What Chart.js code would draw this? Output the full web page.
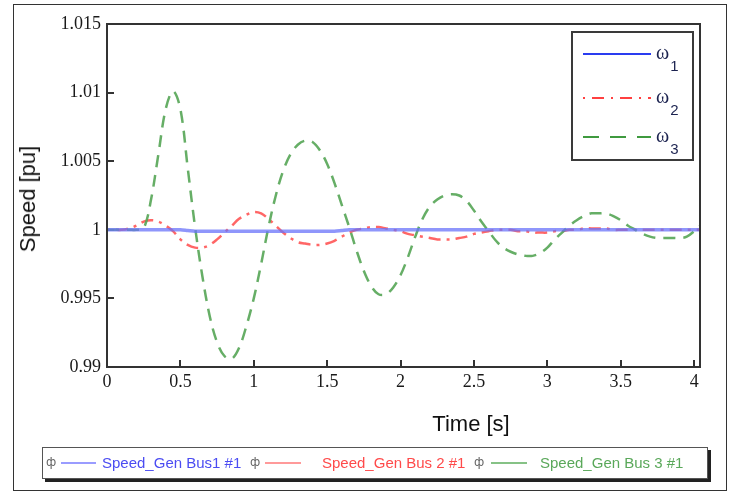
<!DOCTYPE html>
<html><head><meta charset="utf-8">
<script src="https://cdn.jsdelivr.net/npm/chart.js@4.4.1/dist/chart.umd.min.js"></script>
<style>
html,body{margin:0;padding:0;background:#fff;}
#wrap{position:relative;width:731px;height:495px;overflow:hidden;background:#fff;}
#frame{position:absolute;left:13px;top:4px;width:712px;height:485px;border:1.5px solid #333;}
#c{position:absolute;left:0;top:0;}
.title{position:absolute;font-family:"Liberation Sans",Arial,sans-serif;font-size:22px;color:#111;white-space:nowrap;line-height:1;}
#xt{left:471px;top:424px;transform:translate(-50%,-50%);}
#yt{left:28px;top:199px;transform:translate(-50%,-50%) rotate(-90deg);}
#leg2{position:absolute;left:42px;top:447px;width:664px;height:30px;border:1.5px solid #555;box-shadow:3px 3px 0 #222;background:#fff;}
.ic{position:absolute;top:7px;font-family:"DejaVu Sans",sans-serif;font-size:12px;color:#666;}
.ln{position:absolute;top:14px;height:2px;}
.tx{position:absolute;top:6px;font-family:"Liberation Sans",Arial,sans-serif;font-size:15px;white-space:nowrap;}
</style></head>
<body>
<div id="wrap">
<div id="frame"></div>
<canvas id="c" width="731" height="495"></canvas>
<div class="title" id="xt">Time [s]</div>
<div class="title" id="yt">Speed [pu]</div>
<div id="leg2"></div>
</div>
<script>
// ---- data ----
const timeS = [0,0.05,0.1,0.15,0.2,0.25,0.3,0.35,0.4,0.45,0.5,0.55,0.6,0.65,0.7,0.75,0.8,0.85,0.9,0.95,
1,1.05,1.1,1.15,1.2,1.25,1.3,1.35,1.4,1.45,1.5,1.55,1.6,1.65,1.7,1.75,1.8,1.85,1.9,1.95,
2,2.05,2.1,2.15,2.2,2.25,2.3,2.35,2.4,2.45,2.5,2.55,2.6,2.65,2.7,2.75,2.8,2.85,2.9,2.95,
3,3.05,3.1,3.15,3.2,3.25,3.3,3.35,3.4,3.45,3.5,3.55,3.6,3.65,3.7,3.75,3.8,3.85,3.9,3.95,4,4.05];

const omega1 = [1.0000,1.0000,1.0000,1.0000,1.0000,1.0000,1.0000,1.0000,1.0000,1.0000,1.0000,0.99995,0.9999,0.9999,0.9999,0.9999,0.9999,0.9999,0.9999,0.9999,
0.9999,0.9999,0.9999,0.9999,0.9999,0.9999,0.9999,0.9999,0.9999,0.9999,0.9999,0.9999,0.99995,1.0000,1.0000,1.0000,1.0000,1.0000,1.0000,1.0000,
1.0000,1.0000,1.0000,1.0000,1.0000,1.0000,1.0000,1.0000,1.0000,1.0000,1.0000,1.0000,1.0000,1.0000,1.0000,1.0000,1.0000,1.0000,1.0000,1.0000,
1.0000,1.0000,1.0000,1.0000,1.0000,1.0000,1.0000,1.0000,1.0000,1.0000,1.0000,1.0000,1.0000,1.0000,1.0000,1.0000,1.0000,1.0000,1.0000,1.0000,1.0000,1.0000];

const omega2 = [1.0000,1.0000,1.0000,1.0001,1.0003,1.0006,1.0007,1.0006,1.0003,0.9999,0.9993,0.9989,0.9987,0.9987,0.9989,0.9993,0.9998,1.0003,1.0008,1.0011,
1.0013,1.0012,1.0008,1.0003,0.9998,0.9994,0.9991,0.9990,0.9989,0.9989,0.9990,0.9992,0.9995,0.9998,1.0000,1.0001,1.0002,1.0002,1.0001,1.0000,
0.9999,0.9997,0.9996,0.9995,0.9994,0.9993,0.9993,0.9993,0.9994,0.9995,0.9997,0.9998,0.9999,1.0000,1.0000,1.0000,0.9999,0.9999,0.9998,0.9998,
0.9998,0.9999,0.9999,1.0000,1.0000,1.0001,1.0001,1.0001,1.0001,1.0000,1.0000,1.0000,1.0000,1.0000,1.0000,1.0000,1.0000,1.0000,1.0000,1.0000,1.0000,1.0000];

const omega3 = [1.0000,1.0000,1.0000,1.0000,1.0000,1.0001,1.0022,1.0055,1.0088,1.0101,1.0088,1.0045,1.0002,0.9966,0.9937,0.9918,0.9908,0.9906,0.9914,0.9930,
0.9950,0.9975,1.0002,1.0025,1.0043,1.0055,1.0062,1.0065,1.0064,1.0058,1.0048,1.0034,1.0018,1.0002,0.9985,0.9970,0.9959,0.9953,0.9953,0.9958,
0.9967,0.9980,0.9995,1.0008,1.0017,1.0022,1.0025,1.0026,1.0025,1.0021,1.0014,1.0006,0.9999,0.9992,0.9987,0.9984,0.9982,0.9981,0.9981,0.9983,
0.9987,0.9993,0.9998,1.0003,1.0007,1.0010,1.0012,1.0012,1.0012,1.0010,1.0007,1.0003,1.0000,0.9997,0.9995,0.9994,0.9994,0.9994,0.9994,0.9995,0.9999,1.0004];

const seriesLabels = ['ω₁','ω₂','ω₃'];
const yTicks = [0.99,0.995,1,1.005,1.01,1.015];
const xTicks = [0,0.5,1,1.5,2,2.5,3,3.5,4];
const bottomLegend = ['Speed_Gen Bus1 #1','Speed_Gen Bus 2 #1','Speed_Gen Bus 3 #1'];

// ---- bottom (PSCAD) legend ----
const leg2 = document.getElementById('leg2');
const bl = [
  {ic:3, l1:18, l2:53, t:59, lc:'#9a9cff', tc:'#4b4cf2'},
  {ic:207, l1:222, l2:258, t:279, lc:'#ff9a9a', tc:'#ff4a4a'},
  {ic:431, l1:448, l2:484, t:497, lc:'#86c286', tc:'#5aa85a'}
];
bl.forEach((b,i)=>{
  const ic=document.createElement('div');ic.className='ic';ic.style.left=b.ic+'px';ic.textContent='ф';leg2.appendChild(ic);
  const ln=document.createElement('div');ln.className='ln';ln.style.left=b.l1+'px';ln.style.width=(b.l2-b.l1)+'px';ln.style.background=b.lc;leg2.appendChild(ln);
  const tx=document.createElement('div');tx.className='tx';tx.style.left=b.t+'px';tx.style.color=b.tc;tx.textContent=bottomLegend[i];leg2.appendChild(tx);
});

const mk = arr => arr.map((v,i)=>({x:timeS[i], y:v}));

const subMap = {'₀':'0','₁':'1','₂':'2','₃':'3','₄':'4'};
const innerLegend = {
  id:'innerLegend',
  afterDatasetsDraw(chart){
    const ctx = chart.ctx, a = chart.chartArea;
    ctx.save();
    ctx.strokeStyle='#333'; ctx.lineWidth=2;
    ctx.strokeRect(a.left, a.top, a.right-a.left, a.bottom-a.top);
    const bx=572, by=32, bw=121, bh=128;
    ctx.fillStyle='#fff'; ctx.fillRect(bx,by,bw,bh);
    ctx.strokeStyle='#3a3a3a'; ctx.lineWidth=2; ctx.strokeRect(bx,by,bw,bh);
    const ys=[54,98,137];
    const legColors=['#2a3cf0','#ff4040','#3f9a3f'];
    const legDash=[[],[2,7,12,7],[16,11]];
    chart.data.datasets.forEach((ds,i)=>{
      ctx.beginPath();
      ctx.setLineDash(legDash[i]);
      ctx.strokeStyle=legColors[i]; ctx.lineWidth=2;
      ctx.moveTo(583,ys[i]); ctx.lineTo(651,ys[i]); ctx.stroke();
      ctx.setLineDash([]);
      const lab = ds.label;
      ctx.fillStyle='#1c2350';
      ctx.textBaseline='alphabetic'; ctx.textAlign='left';
      ctx.font='20px "Liberation Serif", serif';
      ctx.fillText(lab[0], 656, ys[i]+5);
      const w = ctx.measureText(lab[0]).width;
      ctx.font='15px "Liberation Sans", sans-serif';
      const sub = lab.slice(1).split('').map(c=>subMap[c]||c).join('');
      ctx.fillText(sub, 656+w+1, ys[i]+17);
    });
    ctx.restore();
  }
};

new Chart(document.getElementById('c'), {
  type:'line',
  data:{
    datasets:[
      {label:seriesLabels[0], data:mk(omega1), borderColor:'rgba(105,115,250,0.75)', borderWidth:3.5, pointRadius:0, tension:0.3, order:1},
      {label:seriesLabels[1], data:mk(omega2), borderColor:'rgba(255,85,85,0.9)', borderWidth:2.5, borderDash:[3,6,12,6], pointRadius:0, tension:0.35, order:3},
      {label:seriesLabels[2], data:mk(omega3), borderColor:'rgba(85,165,85,0.9)', borderWidth:2.5, borderDash:[12,8], pointRadius:0, tension:0.35, order:2}
    ]
  },
  options:{
    responsive:false, animation:false, devicePixelRatio:1,
    layout:{padding:{left:0,top:24,right:31,bottom:0}},
    plugins:{legend:{display:false}, tooltip:{enabled:false}},
    scales:{
      x:{type:'linear', min:0, max:4.04,
        afterFit(s){ s.height=128; },
        afterBuildTicks(s){ s.ticks = xTicks.map(v=>({value:v})); },
        ticks:{autoSkip:false, maxRotation:0, padding:11, color:'#1a1a1a',
          font:{family:'"Liberation Serif", serif', size:18},
          callback:v=>String(v)},
        grid:{drawOnChartArea:false, tickLength:-7, color:'#333', lineWidth:2},
        border:{display:true, color:'#333', width:2}
      },
      y:{min:0.99, max:1.015,
        afterFit(s){ s.width=107; },
        afterBuildTicks(s){ s.ticks = yTicks.map(v=>({value:v})); },
        ticks:{autoSkip:false, padding:13, color:'#1a1a1a',
          font:{family:'"Liberation Serif", serif', size:18},
          callback:v=>String(Number(v.toFixed(3)))},
        grid:{drawOnChartArea:false, tickLength:-7, color:'#333', lineWidth:2},
        border:{display:true, color:'#333', width:2}
      }
    }
  },
  plugins:[innerLegend]
});
</script>
</body></html>
